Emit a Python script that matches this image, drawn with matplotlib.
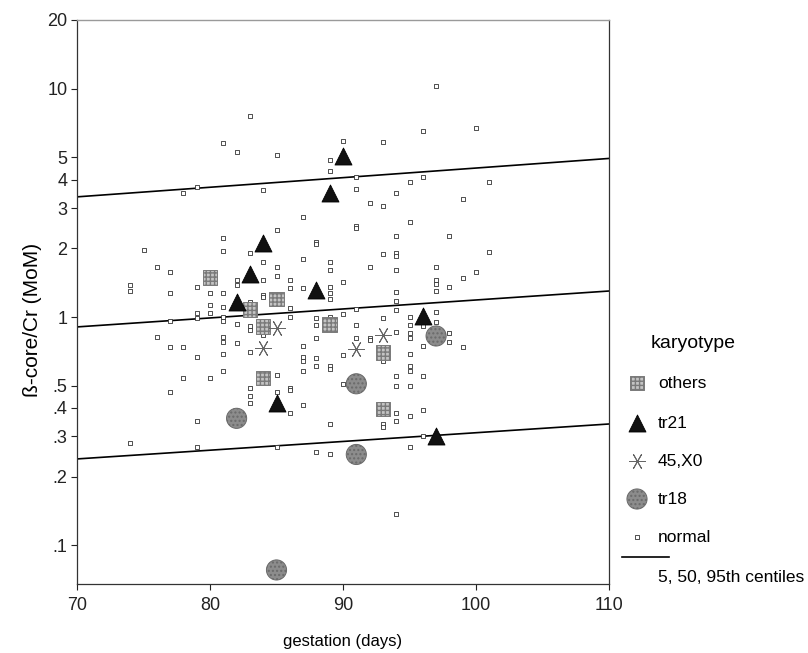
import matplotlib
matplotlib.use("Agg")
import matplotlib.pyplot as plt
import numpy as np
from matplotlib.ticker import FixedLocator, FixedFormatter, NullLocator

plt.rcParams['font.family'] = ['Liberation Sans', 'DejaVu Sans']

# ---------------- data ----------------
normal_x = ([74]*3 + [75] + [76]*2 + [77]*5 + [78]*3 + [79]*7 + [80]*4 + [81]*11 +
            [82]*5 + [83]*9 + [84]*7 + [85]*7 + [86]*7 + [87]*8 + [88]*8 + [89]*12 +
            [90]*5 + [91]*7 + [92]*4 + [93]*7 + [94]*14 + [95]*12 + [96]*7 + [97]*7 +
            [98]*4 + [99]*3 + [100]*2 + [101]*2)
normal_y = [1.38, 1.30, 0.28,
            1.97,
            1.66, 0.82,
            1.58, 1.28, 0.96, 0.74, 0.47,
            3.51, 0.74, 0.54,
            3.70, 1.35, 1.04, 0.99, 0.67, 0.35, 0.27,
            1.27, 1.13, 1.04, 0.54,
            5.78, 2.21, 1.95, 1.28, 1.11, 1.00, 0.96, 0.82, 0.78, 0.69, 0.58,
            5.28, 1.45, 1.38, 0.93, 0.77,
            7.60, 1.90, 1.16, 0.91, 0.88, 0.70, 0.49, 0.45, 0.42,
            3.61, 1.75, 1.46, 1.25, 1.22, 0.85, 0.83,
            5.13, 2.41, 1.65, 1.51, 0.56, 0.47, 0.27,
            1.46, 1.34, 1.10, 1.00, 0.49, 0.48, 0.38,
            2.74, 1.80, 1.34, 0.75, 0.67, 0.64, 0.58, 0.41,
            2.13, 2.08, 0.99, 0.92, 0.81, 0.66, 0.61, 0.257,
            4.88, 4.34, 1.74, 1.61, 1.36, 1.27, 1.20, 1.00, 0.61, 0.59, 0.34, 0.25,
            5.90, 1.43, 1.03, 0.68, 0.51,
            4.12, 3.64, 2.50, 2.45, 1.08, 0.92, 0.81,
            3.17, 1.65, 0.81, 0.79,
            5.83, 3.05, 1.89, 0.99, 0.64, 0.34, 0.33,
            3.51, 2.27, 1.90, 1.85, 1.61, 1.29, 1.17, 1.07, 0.86, 0.55, 0.50, 0.38, 0.35, 0.137,
            3.90, 2.62, 1.00, 0.92, 0.85, 0.81, 0.69, 0.61, 0.58, 0.50, 0.37, 0.27,
            6.56, 4.12, 0.91, 0.75, 0.55, 0.39, 0.30,
            10.3, 1.65, 1.45, 1.40, 1.30, 1.05, 0.95,
            2.27, 1.36, 0.85, 0.78,
            3.29, 1.48, 0.74,
            6.70, 1.57,
            3.92, 1.92]

others_x = [80, 83, 84, 84, 85, 89, 93, 93]
others_y = [1.49, 1.08, 0.91, 0.54, 1.20, 0.93, 0.70, 0.395]

tr21_x = [82, 83, 84, 85, 88, 89, 90, 96, 97]
tr21_y = [1.16, 1.54, 2.10, 0.42, 1.31, 3.50, 5.05, 1.01, 0.30]

x45_x = [84, 85, 91, 93]
x45_y = [0.733, 0.892, 0.724, 0.834]

tr18_x = [82, 85, 91, 91, 97]
tr18_y = [0.36, 0.078, 0.51, 0.25, 0.826]

centile_x = [70, 110]
c95 = [3.36, 4.95]
c50 = [0.905, 1.30]
c05 = [0.239, 0.34]

yticks = [20, 10, 5, 4, 3, 2, 1, 0.5, 0.4, 0.3, 0.2, 0.1]
ylabels = ['20', '10', '5', '4', '3', '2', '1', '.5', '.4', '.3', '.2', '.1']
xticks = [70, 80, 90, 100, 110]

legend_labels = ['others', 'tr21', '45,X0', 'tr18', 'normal']

# ---------------- styles ----------------
W, H = 808, 653
fig = plt.figure(figsize=(W/100, H/100), dpi=100)
ax = fig.add_axes([77/W, 1-584/H, (609-77)/W, (584-20)/H])

sty_normal = dict(marker='s', s=11, facecolors='white', edgecolors='#333333', linewidths=0.6)
sty_others = dict(marker='s', s=110, facecolors='#c4c4c4', edgecolors='#7a7a7a', linewidths=0.7, hatch='++++')
sty_tr21 = dict(marker='^', s=150, facecolors='#111111', edgecolors='#000000', linewidths=0.6)
sty_tr18 = dict(marker='o', s=210, facecolors='#8c8c8c', edgecolors='#6a6a6a', linewidths=0.7, hatch='....')
sty_x45 = dict(marker=(6, 2, 90), markersize=12, color='#666666', mew=0.7, linestyle='none')

for c in (c95, c50, c05):
    ax.plot(centile_x, c, color='black', lw=1.2, zorder=2)

ax.scatter(normal_x, normal_y, zorder=3, **sty_normal)
ax.scatter(others_x, others_y, zorder=4, **sty_others)
ax.scatter(tr21_x, tr21_y, zorder=4, **sty_tr21)
ax.plot(x45_x, x45_y, zorder=4, **sty_x45)
ax.scatter(tr18_x, tr18_y, zorder=4, **sty_tr18)

ax.set_yscale('log')
ax.set_ylim(0.0677, 20)
ax.set_xlim(70, 110)
ax.yaxis.set_major_locator(FixedLocator(yticks))
ax.yaxis.set_major_formatter(FixedFormatter(ylabels))
ax.yaxis.set_minor_locator(NullLocator())
ax.set_xticks(xticks)
ax.set_xticklabels([str(v) for v in xticks])
ax.tick_params(axis='both', labelsize=13, length=4, width=0.8, direction='out', colors='#222222')
ax.tick_params(axis='x', pad=5)
ax.tick_params(axis='y', pad=3)

for s in ('left', 'bottom', 'right'):
    ax.spines[s].set_linewidth(0.9)
    ax.spines[s].set_color('#333333')
ax.spines['top'].set_color('#9a9a9a')
ax.spines['top'].set_linewidth(1.0)

ax.set_xlabel('gestation (days)', fontsize=12, labelpad=15)
ax.set_ylabel('ß-core/Cr (MoM)', fontsize=15)
ax.yaxis.set_label_coords(-0.066, 0.468)

# ---------------- legend (manual) ----------------
lax = fig.add_axes([610/W, 0, (W-610)/W, 1])
lax.set_xlim(610, W)
lax.set_ylim(H, 0)
lax.axis('off')
lax.text(693, 343, 'karyotype', fontsize=14, ha='center', va='center')
leg_y = [383, 423, 461, 499, 537]
for yy, lab in zip(leg_y, legend_labels):
    lax.text(658, yy, lab, fontsize=12.5, ha='left', va='center')
lax.scatter([637], [leg_y[0]], **sty_others)
lax.scatter([637], [leg_y[1]], **sty_tr21)
lax.plot([637], [leg_y[2]], **sty_x45)
lax.scatter([637], [leg_y[3]], **sty_tr18)
lax.scatter([637], [leg_y[4]], **sty_normal)
lax.plot([622, 669], [557, 557], color='black', lw=1.2)
lax.text(658, 578, '5, 50, 95th centiles', fontsize=12.5, ha='left', va='center')

fig.savefig('out.png', dpi=100)
